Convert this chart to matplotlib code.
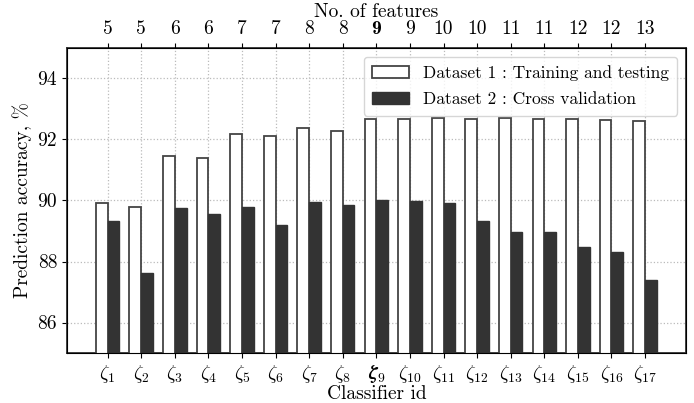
import matplotlib
matplotlib.use("Agg")
import matplotlib.pyplot as plt
import numpy as np

plt.rcParams['font.family'] = ['cmr10', 'DejaVu Serif']
plt.rcParams['mathtext.fontset'] = 'cm'
plt.rcParams['axes.unicode_minus'] = False

classifiers = [r'$\zeta_{%d}$' % i for i in range(1, 18)]
classifiers[8] = r'$\boldsymbol{\zeta}_{\mathbf{9}}$'
n_features = ['5', '5', '6', '6', '7', '7', '8', '8', '9', '9', '10', '10', '11', '11', '12', '12', '13']
dataset1 = [89.93, 89.79, 91.47, 91.38, 92.19, 92.13, 92.37, 92.29, 92.67, 92.67, 92.69,
            92.67, 92.71, 92.67, 92.66, 92.63, 92.60]
dataset2 = [89.33, 87.62, 89.77, 89.56, 89.78, 89.19, 89.96, 89.85, 90.00, 89.99, 89.91,
            89.33, 88.98, 88.98, 88.49, 88.31, 87.41]
legend_labels = ['Dataset 1 : Training and testing', 'Dataset 2 : Cross validation']

fig = plt.figure(figsize=(6.94, 4.03), dpi=100)
ax = fig.add_axes([0.0965, 0.124, 0.892, 0.757])
x = np.arange(len(classifiers))
w = 0.35
ax.bar(x - w / 2, dataset1, w, color='white', edgecolor='#444444', linewidth=1.3,
       label=legend_labels[0], zorder=3)
ax.bar(x + w / 2, dataset2, w, color='#333333', edgecolor='#333333', linewidth=1.0,
       label=legend_labels[1], zorder=3)
ax.set_xlim(-1.21, 16 + 1.22)
ax.set_ylim(85, 95)
ax.set_yticks([86, 88, 90, 92, 94])
ax.set_xticks(x)
ax.set_xticklabels(classifiers, fontsize=14)
ax.tick_params(axis='y', labelsize=14)
ax.grid(True, linestyle=':', color='#bbbbbb', linewidth=0.9, zorder=0)
ax.set_axisbelow(True)
ax.set_xlabel('Classifier id', fontsize=14, labelpad=0)
ax.set_ylabel('Prediction accuracy, %', fontsize=14, labelpad=4)
for s in ax.spines.values():
    s.set_linewidth(1.3)
    s.set_color('#333333')

ax2 = ax.twiny()
ax2.set_xlim(ax.get_xlim())
ax2.set_xticks(x)
ax2.set_xticklabels(n_features, fontsize=14)
lbl9 = ax2.get_xticklabels()[8]
lbl9.set_family(['cmb10', 'DejaVu Serif'])
lbl9.set_fontweight('bold')
ax2.set_xlabel('No. of features', fontsize=14, labelpad=2)

leg = ax.legend(loc='upper right', fontsize=12.5, fancybox=True, framealpha=0.8,
                handlelength=2.1, borderpad=0.5, labelspacing=0.6)
fig.savefig('out.png', dpi=100)
